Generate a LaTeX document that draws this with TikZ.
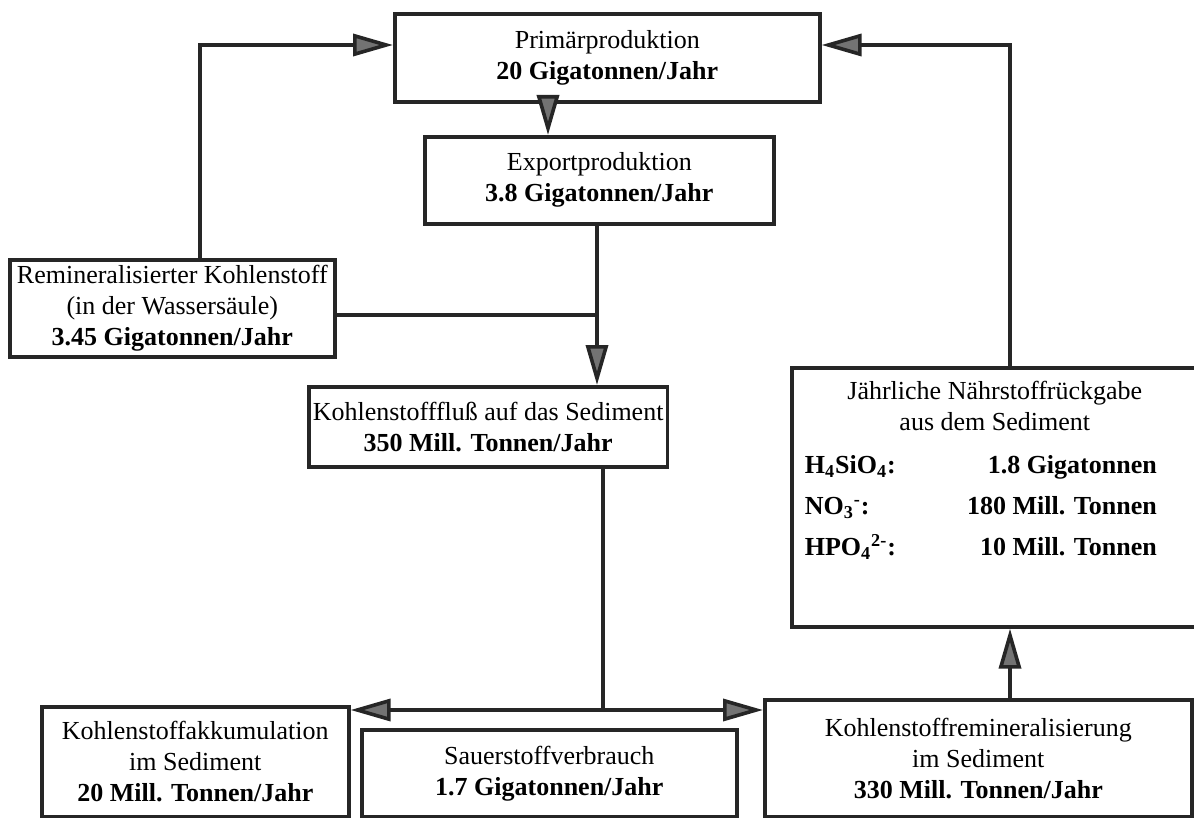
\documentclass[tikz,border=0pt]{standalone}
\usepackage{fontspec}
\setmainfont{Liberation Serif}
\usetikzlibrary{arrows.meta, positioning}

\begin{document}
\begin{tikzpicture}[x=0.5pt, y=-0.5pt]
    % Define styles for the nodes
    \tikzstyle{box} = [
        rectangle, draw=black!85, line width=1.8pt, align=center,
        inner sep=2pt, anchor=north west,
        font=\fontsize{13}{15.5}\selectfont
    ]

    \tikzstyle{line} = [line width=1.8pt, black!85]
    \tikzstyle{arrow} = [line, -{Triangle[length=20pt, width=11pt, fill=black!55]}]

    \useasboundingbox (0,0) rectangle (1194,818);

    % Production in the water column
    \node[box, minimum width=212.5pt, minimum height=44pt] (prim) at (393,12)
        {Primärproduktion\\\textbf{20 Gigatonnen/Jahr}};
    \node[box, minimum width=174.5pt, minimum height=43.5pt] (exp) at (423,135)
        {Exportproduktion\\\textbf{3.8 Gigatonnen/Jahr}};
    \node[box, minimum width=162.5pt, minimum height=48.5pt] (remw) at (8,258)
        {Remineralisierter Kohlenstoff\\(in der Wassersäule)\\\textbf{3.45 Gigatonnen/Jahr}};
    \node[box, minimum width=153pt, minimum height=40pt] (flux) at (307,385)
        {Kohlenstofffluß auf das Sediment\\\textbf{350 Mill. Tonnen/Jahr}};

    % Nutrient return
    \node[box, minimum width=203pt, minimum height=129.5pt] (ruck) at (790,366) {%
        \hspace*{-14pt}%
        \begin{tabular*}{176pt}{@{}l@{\extracolsep{\fill}}r@{}}
            \multicolumn{2}{c}{\hspace*{14pt}Jährliche Nährstoffrückgabe}\\
            \multicolumn{2}{c}{\hspace*{14pt}aus dem Sediment}\\[6pt]
            \textbf{H\textsubscript{4}SiO\textsubscript{4}:} & \textbf{1.8 Gigatonnen}\\[5pt]
            \textbf{NO\textsubscript{3}\textsuperscript{-}:} & \textbf{180 Mill. Tonnen}\\[5pt]
            \textbf{HPO\textsubscript{4}\textsuperscript{2-}:} & \textbf{10 Mill. Tonnen}\\[26pt]
        \end{tabular*}};

    % Sediment
    \node[box, minimum width=153.5pt, minimum height=55pt] (akku) at (40,705)
        {Kohlenstoffakkumulation\\im Sediment\\\textbf{20 Mill. Tonnen/Jahr}};
    \node[box, minimum width=187.5pt, minimum height=43.5pt] (sauer) at (360,728)
        {Sauerstoffverbrauch\\\textbf{1.7 Gigatonnen/Jahr}};
    \node[box, minimum width=213.5pt, minimum height=58.5pt] (remsed) at (763,698)
        {Kohlenstoffremineralisierung\\im Sediment\\\textbf{330 Mill. Tonnen/Jahr}};

    % Turning points of the connectors
    \coordinate (lloop) at (200,45);
    \coordinate (rloop) at (1010,45);
    \coordinate (down1) at (548,0);
    \coordinate (trunk) at (597,315);
    \coordinate (split) at (603,710);

    % Arrows
    \draw[arrow] (remw.north -| lloop) |- (prim.west |- lloop);
    \draw[arrow] (ruck.north -| rloop) |- (prim.east |- rloop);
    \draw[arrow] (prim.south -| down1) -- (exp.north -| down1);
    \draw[arrow] (exp.south -| trunk) -- (flux.north -| trunk);
    \draw[line] (remw.east |- trunk) -- (trunk);
    \draw[line] (flux.south -| split) -- (split);
    \draw[arrow] (split) -- (akku.east |- split);
    \draw[arrow] (split) -- (remsed.west |- split);
    \draw[arrow] (remsed.north -| rloop) -- (ruck.south -| rloop);

\end{tikzpicture}
\end{document}
